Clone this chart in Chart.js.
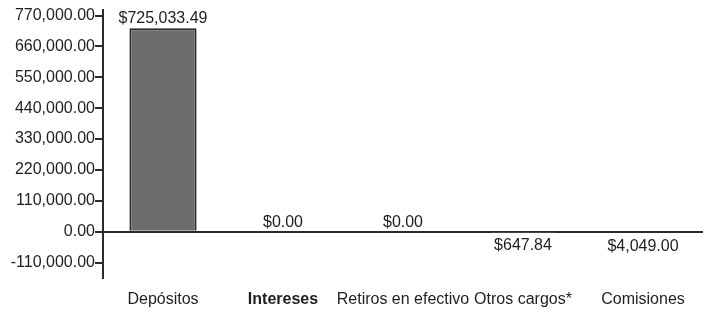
<!DOCTYPE html>
<html>
<head>
<meta charset="utf-8">
<script src="https://cdn.jsdelivr.net/npm/chart.js@4"></script>
<style>
  html, body { margin: 0; padding: 0; background: #fff; }
  #wrap { width: 703px; height: 312px; }
</style>
</head>
<body>
<div id="wrap"><canvas id="chart"></canvas></div>
<script>
// data (cargos are drawn below zero)
const categories = ["Depósitos", "Intereses", "Retiros en efectivo", "Otros cargos*", "Comisiones"];
const amounts = [725033.49, 0, 0, -647.84, -4049.0];
const valueLabels = ["$725,033.49", "$0.00", "$0.00", "$647.84", "$4,049.00"];
const yTicks = [-110000, 0, 110000, 220000, 330000, 440000, 550000, 660000, 770000];

const FONT = "'Liberation Sans', Arial, sans-serif";
const INK = "#1e1e1e";

// draw the $ labels above / below each bar
const barLabels = {
  id: "barLabels",
  afterDatasetsDraw(chart) {
    const ctx = chart.ctx;
    const meta = chart.getDatasetMeta(0);
    ctx.save();
    ctx.font = "16px " + FONT;
    ctx.fillStyle = INK;
    ctx.textAlign = "center";
    ctx.textBaseline = "alphabetic";
    meta.data.forEach((bar, i) => {
      if (amounts[i] >= 0) {
        ctx.fillText(valueLabels[i], bar.x, bar.y - 5);
      } else {
        ctx.fillText(valueLabels[i], bar.x, bar.y + 18);
      }
    });
    ctx.restore();
  },
};

new Chart(document.getElementById("chart").getContext("2d"), {
  type: "bar",
  data: {
    labels: categories,
    datasets: [
      {
        data: amounts,
        backgroundColor: "#6c6c6c",
        borderColor: "#2b2b2b",
        borderWidth: 2,
        categoryPercentage: 1,
        barPercentage: 0.56,
      },
    ],
  },
  options: {
    responsive: true,
    maintainAspectRatio: false,
    animation: false,
    layout: { padding: { top: 10, left: 2, right: 0, bottom: 0 } },
    plugins: { legend: { display: false }, tooltip: { enabled: false } },
    scales: {
      x: {
        border: { display: false },
        grid: { display: false },
        afterFit(scale) {
          scale.height = 34;
        },
        ticks: {
          color: INK,
          padding: 4,
          maxRotation: 0,
          autoSkip: false,
          font: (c) => ({ family: FONT, size: 16, weight: c.index === 1 ? "bold" : "normal" }),
        },
      },
      y: {
        min: -165000,
        max: 790000,
        border: { display: true, color: "#2b2b2b", width: 2 },
        grid: {
          drawOnChartArea: true,
          color: (c) => (c.tick && c.tick.value === 0 ? "#2b2b2b" : "rgba(0,0,0,0)"),
          lineWidth: 2,
          tickColor: "#2b2b2b",
          tickLength: 8,
        },
        afterBuildTicks(scale) {
          scale.ticks = yTicks.map((v) => ({ value: v }));
        },
        afterFit(scale) {
          scale.width = 101;
        },
        ticks: {
          padding: 0,
          color: INK,
          autoSkip: false,
          font: { family: FONT, size: 16 },
          callback: (v) =>
            v.toLocaleString("en-US", { minimumFractionDigits: 2, maximumFractionDigits: 2 }),
        },
      },
    },
  },
  plugins: [barLabels],
});
</script>
</body>
</html>
